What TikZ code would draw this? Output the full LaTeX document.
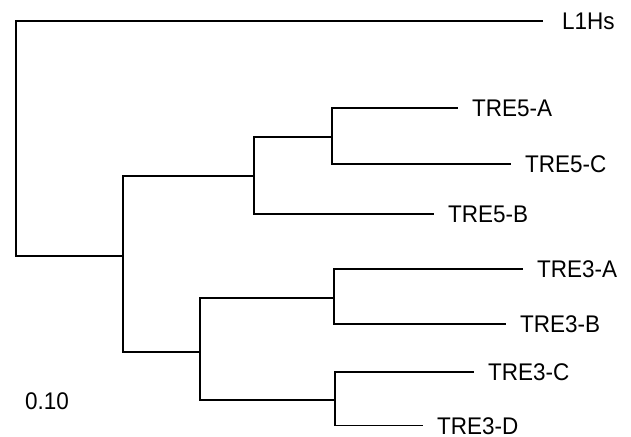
\documentclass[tikz,border=0pt]{standalone}
\usepackage{graphicx}
\usepackage{fontspec}
\setmainfont{Liberation Sans}
\newcommand{\tallt}[1]{\scalebox{1}[1.07]{#1}}
\begin{document}
\begin{tikzpicture}[x=1pt,y=-1pt,
  branch/.style={line width=1.5pt, line cap=rect},
  leaf/.style={anchor=west, inner xsep=15pt, inner ysep=0pt, text height=17.2pt, text depth=0pt,
    font=\fontsize{22.5}{27}\selectfont}]
\useasboundingbox (0,0) rectangle (631,436);
% internal nodes
\coordinate (root) at (16,256);
\coordinate (n1) at (123,256);
\coordinate (n5) at (254,176);
\coordinate (n5a) at (332,137);
\coordinate (n3) at (200,352);
\coordinate (n3a) at (334,298);
\coordinate (n3b) at (335,400);
% leaves
\node[leaf, inner xsep=20pt] (L1Hs) at (542,21) {\tallt{L1Hs}};
\node[leaf] (T5A) at (457,108) {\tallt{TRE5-A}};
\node[leaf] (T5C) at (510,164) {\tallt{TRE5-C}};
\node[leaf] (T5B) at (433,214) {\tallt{TRE5-B}};
\node[leaf] (T3A) at (522,269) {\tallt{TRE3-A}};
\node[leaf] (T3B) at (505,324) {\tallt{TRE3-B}};
\node[leaf] (T3C) at (473,372) {\tallt{TRE3-C}};
\node[leaf] (T3D) at (422,425.5) {\tallt{TRE3-D}};
\node[leaf, inner xsep=0pt] (scale) at (25,401) {\tallt{0.10}};
% branches
\draw[branch] (root) |- (L1Hs.west);
\draw[branch] (root) -- (n1);
\draw[branch] (n1) |- (n5);
\draw[branch] (n1) |- (n3);
\draw[branch] (n5) |- (n5a);
\draw[branch] (n5) |- (T5B.west);
\draw[branch] (n5a) |- (T5A.west);
\draw[branch] (n5a) |- (T5C.west);
\draw[branch] (n3) |- (n3a);
\draw[branch] (n3) |- (n3b);
\draw[branch] (n3a) |- (T3A.west);
\draw[branch] (n3a) |- (T3B.west);
\draw[branch] (n3b) |- (T3C.west);
\draw[branch] (n3b) |- (T3D.west);
\end{tikzpicture}
\end{document}
